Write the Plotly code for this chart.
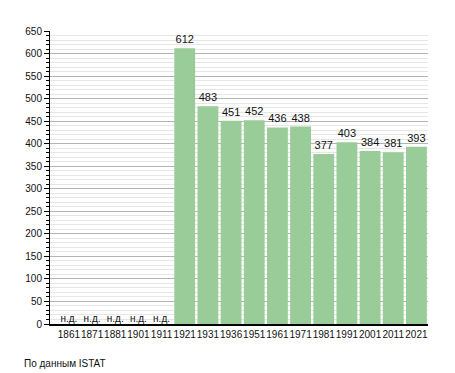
import plotly.graph_objects as go

years = ["1861", "1871", "1881", "1901", "1911", "1921", "1931", "1936",
         "1951", "1961", "1971", "1981", "1991", "2001", "2011", "2021"]
population = [None, None, None, None, None, 612, 483, 451,
              452, 436, 438, 377, 403, 384, 381, 393]
na_label = "н.д."
source_text = "По данным ISTAT"

bar_text = [str(v) if v is not None else "" for v in population]
na_years = [y for y, v in zip(years, population) if v is None]

fig = go.Figure()
fig.add_trace(go.Bar(
    x=years, y=population, text=bar_text, textposition="outside",
    textfont=dict(size=11, color="#111111"), cliponaxis=False,
    marker=dict(color="#99cc99", line=dict(width=0)),
    hoverinfo="x+y", showlegend=False,
))
fig.add_trace(go.Scatter(
    x=na_years, y=[0] * len(na_years), mode="text",
    text=[na_label] * len(na_years), textposition="top center",
    textfont=dict(size=10, color="#111111"), showlegend=False, hoverinfo="skip",
    cliponaxis=False,
))

fig.update_layout(
    width=447, height=365,
    margin=dict(l=42, r=27, t=23, b=49),
    paper_bgcolor="white", plot_bgcolor="white",
    bargap=0.1,
    font=dict(family="Liberation Sans, Arial, sans-serif", size=11, color="#111111"),
    xaxis=dict(
        type="category", showline=True, linecolor="black", linewidth=1.5,
        ticks="", showgrid=False, tickfont=dict(size=10), tickangle=0,
    ),
    yaxis=dict(
        range=[0, 650], dtick=50, tick0=0, showline=True, linecolor="black",
        linewidth=1, ticks="outside", ticklen=5, tickcolor="black",
        showgrid=True, gridcolor="#b3b3b3", gridwidth=1, zeroline=False,
        tickfont=dict(size=10),
        minor=dict(dtick=10, showgrid=True, gridcolor="#e6e6e6", gridwidth=1,
                   ticks="outside", ticklen=3, tickcolor="black"),
    ),
    annotations=[dict(
        text=source_text, xref="paper", yref="paper", x=-0.074, y=-0.109,
        xanchor="left", yanchor="top", showarrow=False,
        font=dict(size=10, color="#111111"),
    )],
)

fig.write_html("out.html")
